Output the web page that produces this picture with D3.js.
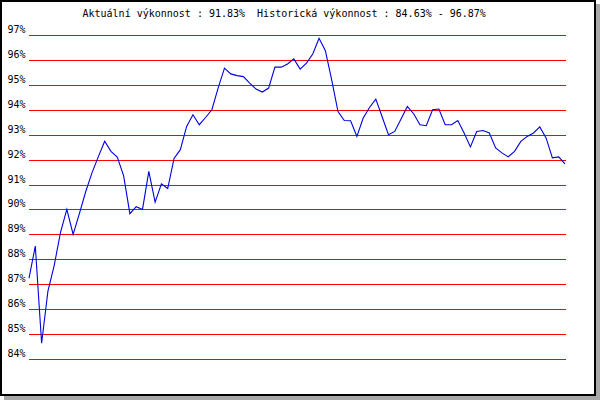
<!DOCTYPE html>
<html>
<head>
<meta charset="utf-8">
<script src="https://cdn.jsdelivr.net/npm/d3@7/dist/d3.min.js"></script>
<style>
html,body{margin:0;padding:0;background:#fff;}
svg{display:block;}
text{font-family:"DejaVu Sans Mono",monospace;font-size:10px;fill:#000;white-space:pre;}
</style>
</head>
<body>
<svg id="chart" width="600" height="400"></svg>
<script>
const titleText = "Aktuální výkonnost : 91.83%  Historická výkonnost : 84.63% - 96.87%";
const yTicks = [84, 85, 86, 87, 88, 89, 90, 91, 92, 93, 94, 95, 96, 97];
const performance = [
  87.24, 88.53, 84.63, 86.72, 87.76, 89.08, 90.00, 89.00, 89.84, 90.72,
  91.48, 92.12, 92.74, 92.33, 92.10, 91.36, 89.83, 90.11, 90.00, 91.53,
  90.29, 91.03, 90.84, 92.05, 92.40, 93.33, 93.80, 93.40, 93.69, 94.00,
  94.88, 95.67, 95.44, 95.37, 95.33, 95.07, 94.83, 94.71, 94.87, 95.71,
  95.71, 95.84, 96.04, 95.63, 95.87, 96.24, 96.87, 96.37, 95.20, 93.93,
  93.57, 93.56, 92.93, 93.67, 94.09, 94.43, 93.72, 93.00, 93.13, 93.63,
  94.13, 93.84, 93.40, 93.36, 94.00, 94.03, 93.40, 93.40, 93.57, 93.07,
  92.51, 93.13, 93.17, 93.07, 92.47, 92.27, 92.11, 92.33, 92.73, 92.93,
  93.07, 93.31, 92.87, 92.07, 92.11, 91.83
];

const svg = d3.select("#chart");

// shadow + frame
svg.append("rect").attr("x", 4).attr("y", 4).attr("width", 596).attr("height", 396).attr("fill", "#a8a8a8");
svg.append("rect").attr("x", 1).attr("y", 1).attr("width", 594).attr("height", 394)
  .attr("fill", "#fff").attr("stroke", "#000").attr("stroke-width", 2);

const x = d3.scaleLinear().domain([0, performance.length - 1]).range([29, 565]);
const y = d3.scaleLinear().domain([84, 97]).range([359, 35]);
const yPix = v => Math.round(y(v));

// grid lines
svg.append("g").selectAll("line").data(yTicks).join("line")
  .attr("x1", 29).attr("x2", 566)
  .attr("y1", d => yPix(d) + 0.5).attr("y2", d => yPix(d) + 0.5)
  .attr("stroke", "#ff0000").attr("stroke-width", 1)
  .attr("shape-rendering", "crispEdges");

// y labels
svg.append("g").selectAll("text").data(yTicks).join("text")
  .attr("x", 7.5).attr("y", d => yPix(d) - 2)
  .text(d => d + "%");

// line
const line = d3.line().x((d, i) => x(i)).y(d => y(d));
svg.append("path").datum(performance)
  .attr("d", line)
  .attr("fill", "none").attr("stroke", "#0000dd").attr("stroke-width", 1.1);

// title
svg.append("text").attr("x", 82.5).attr("y", 17).text(titleText);
</script>
</body>
</html>
